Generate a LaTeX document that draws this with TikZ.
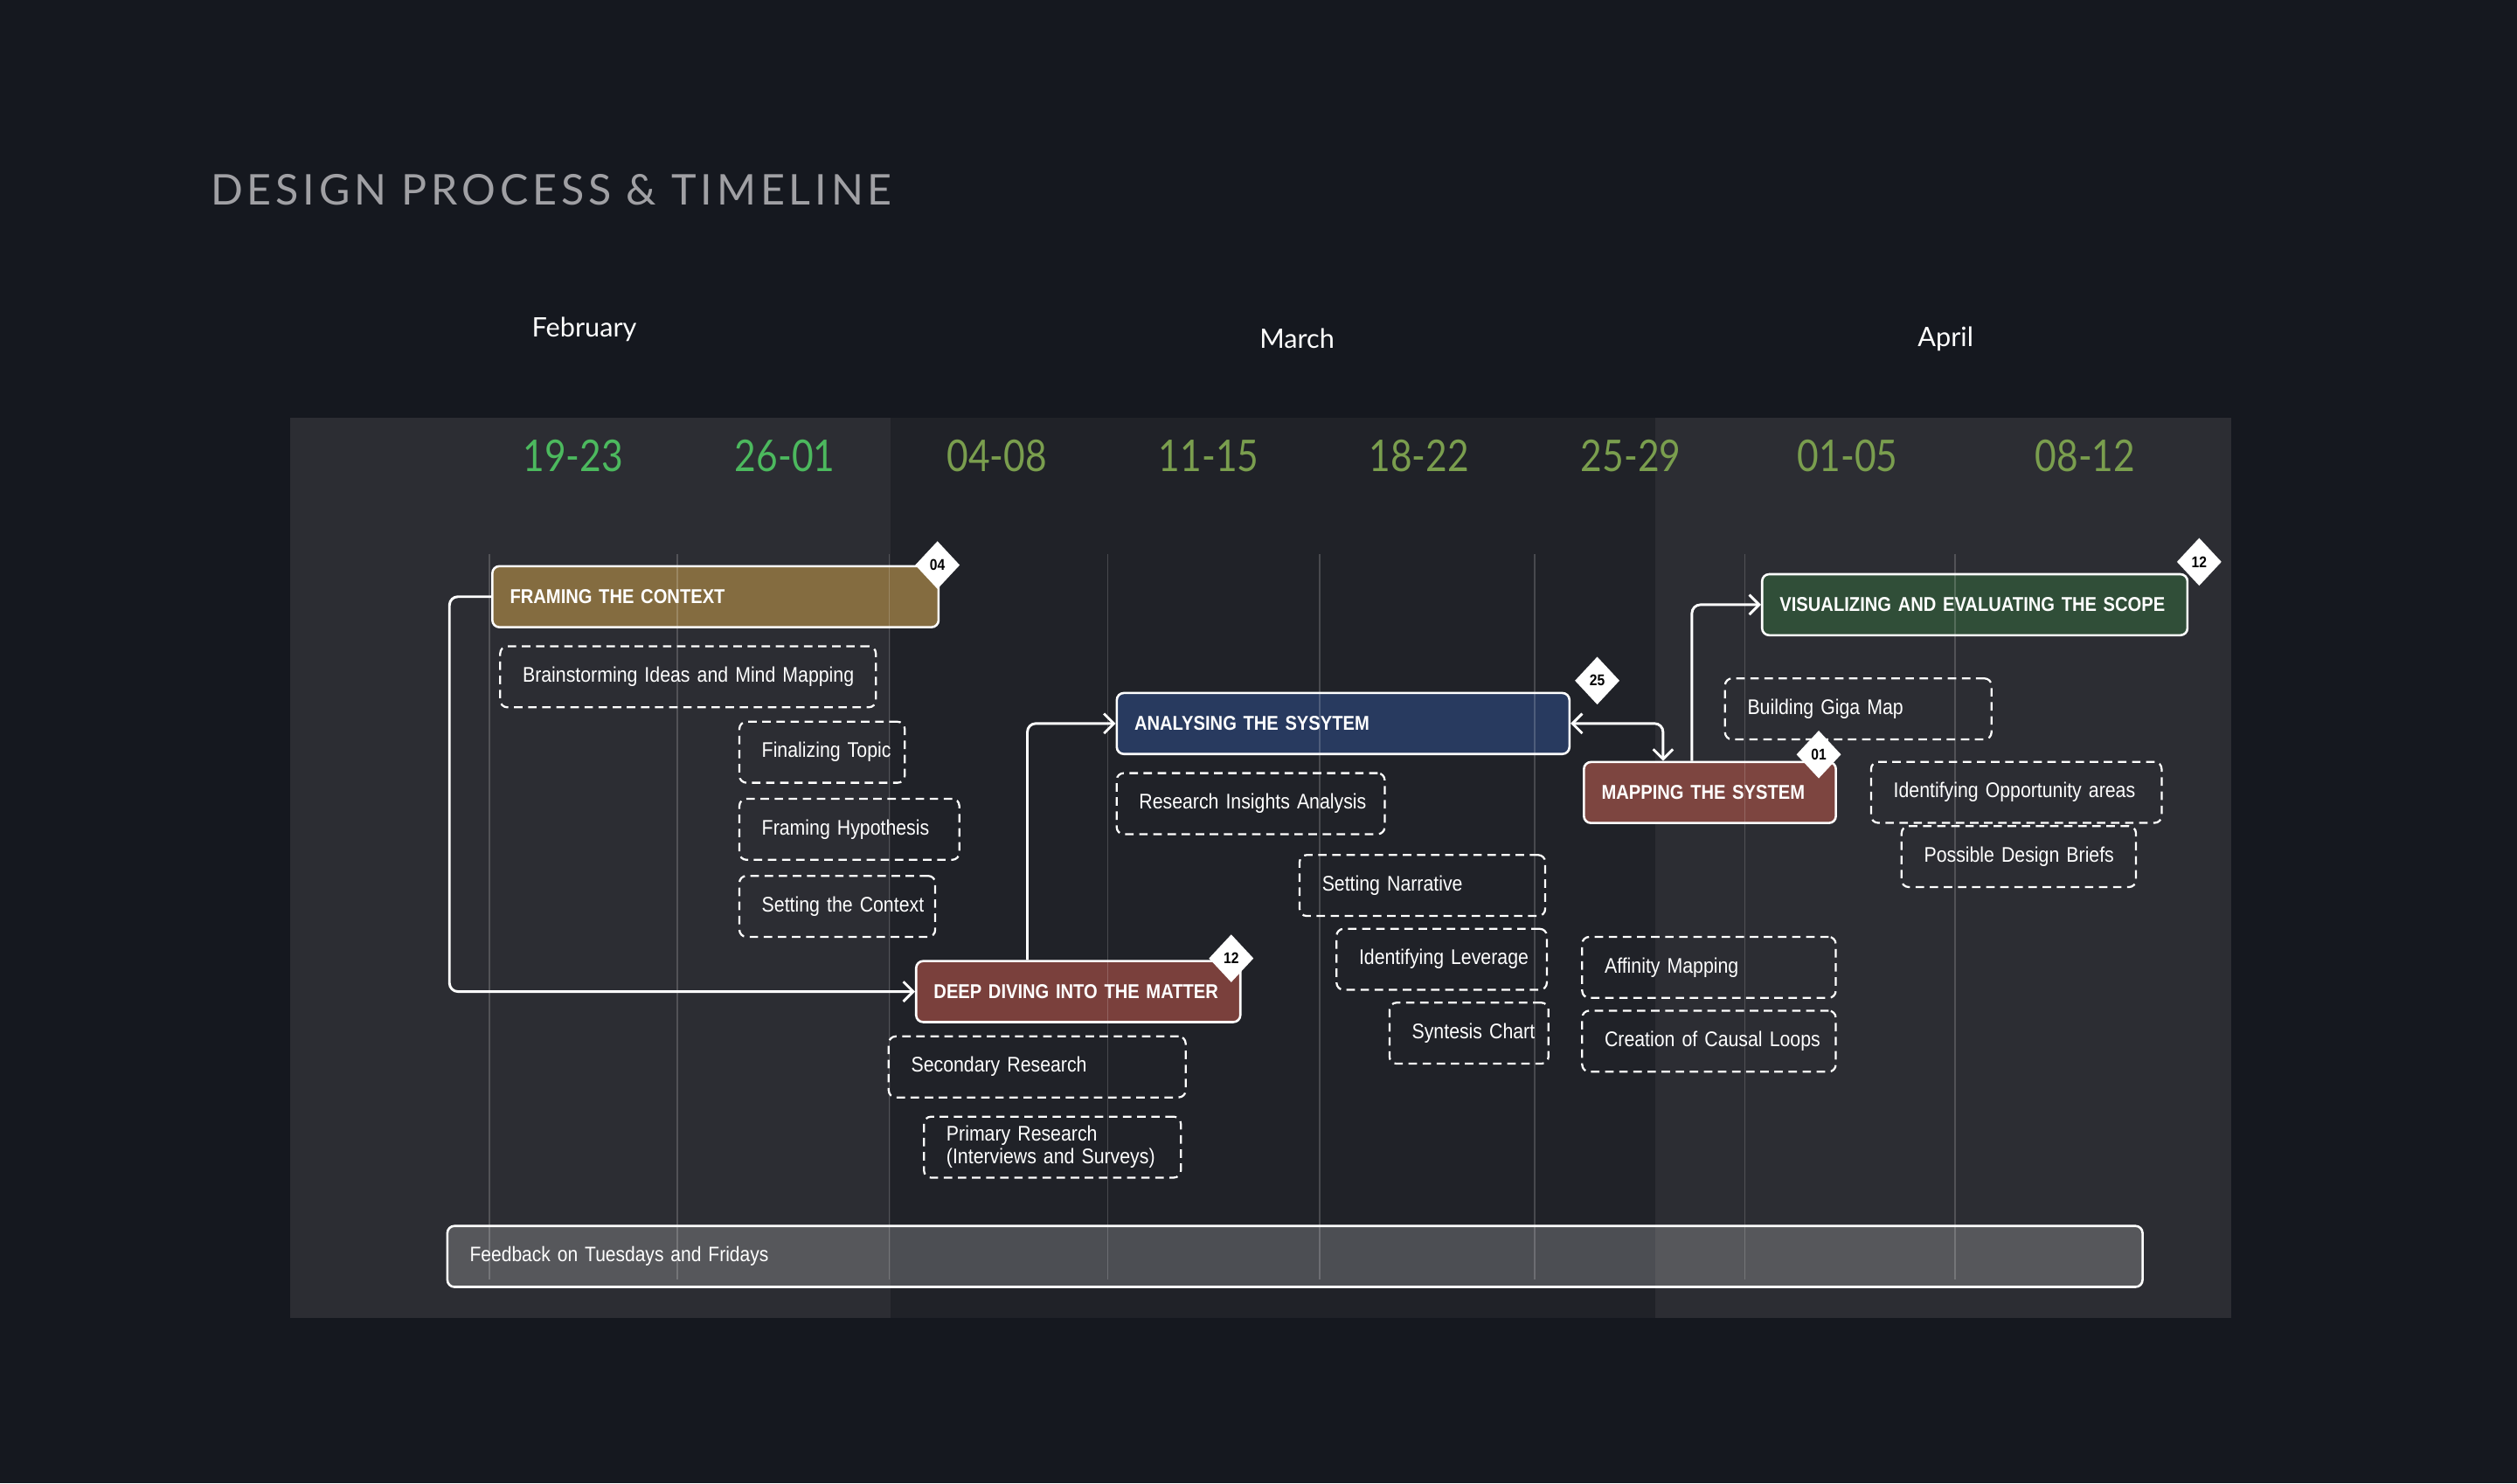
\documentclass[tikz,border=0pt]{standalone}
\usepackage{fontspec}
\setmainfont{Liberation Sans}
\newfontfamily\boxfont{Liberation Sans}[FakeStretch=0.88]
\newfontfamily\headfont{Lato}[LetterSpace=10]
\newfontfamily\monthfont{Lato}
\newfontfamily\weekfont{Lato}[FakeStretch=0.85]
\usetikzlibrary{arrows.meta,shapes.geometric}
\definecolor{pagebg}{RGB}{21,24,31}
\definecolor{panellight}{RGB}{44,45,51}
\definecolor{paneldark}{RGB}{32,34,40}
\definecolor{titlegray}{RGB}{160,160,164}
\definecolor{wkgreen}{RGB}{76,185,94}
\definecolor{wkolive}{RGB}{122,158,78}
\definecolor{cframe}{RGB}{132,108,64}
\definecolor{canal}{RGB}{40,58,95}
\definecolor{cmap}{RGB}{125,69,64}
\definecolor{cdeep}{RGB}{122,64,60}
\definecolor{cvis}{RGB}{48,78,56}
\tikzset{
  tw/.style={/utils/exec={\pgfmathsetmacro\twv{(#1)*0.02}}, text width=\twv cm},
  task/.style={draw=white, line width=0.8pt, rounded corners=2.5pt, anchor=north west,
    inner xsep=0.22cm, inner ysep=0pt, minimum height=0.76cm, align=left, text=white,
    font=\boxfont\bfseries\fontsize{7.1}{8.4}\selectfont},
  note/.style={draw=white, dash pattern=on 3pt off 2pt, line width=0.7pt, rounded corners=2.5pt,
    anchor=north west, inner xsep=0.28cm, inner ysep=0pt, minimum height=0.76cm, align=left,
    text=white, font=\boxfont\fontsize{7.5}{9}\selectfont},
  badge/.style={diamond, fill=white, inner sep=0pt, minimum width=0.56cm, minimum height=0.6cm,
    text=black, font=\boxfont\bfseries\fontsize{5.5}{6}\selectfont},
  month/.style={text=white, font=\monthfont\fontsize{9.5}{11}\selectfont, inner sep=0pt},
  week/.style={font=\weekfont\fontsize{15.5}{18}\selectfont, inner sep=0pt},
  grid/.style={draw=white, draw opacity=0.18, line width=0.5pt},
  conn/.style={draw=white, line width=0.9pt, rounded corners=3pt,
    -{Straight Barb[length=3.5pt,width=7pt]}},
  conn2/.style={draw=white, line width=0.9pt, rounded corners=3pt,
    {Straight Barb[length=3.5pt,width=7pt]}-{Straight Barb[length=3.5pt,width=7pt]}},
}
\begin{document}
\begin{tikzpicture}[x=0.02cm,y=-0.02cm]
\fill[pagebg] (0,0) rectangle (1568,924);
\useasboundingbox (0,0) rectangle (1568,924);
% panel
\fill[panellight] (181,260) rectangle (555,821);
\fill[paneldark] (555,260) rectangle (1031,821);
\fill[panellight] (1031,260) rectangle (1390,821);
% title
\node[anchor=west, inner sep=0pt, text=titlegray, font=\headfont\fontsize{15}{18}\selectfont] (title) at (131,118) {DESIGN PROCESS \& TIMELINE};
% months
\node[month] (feb) at (364,205) {February};
\node[month] (mar) at (808,211) {March};
\node[month] (apr) at (1212,211) {April};
% weeks
\node[week, text=wkgreen] (w1) at (357,284) {19-23};
\node[week, text=wkgreen] (w2) at (489,284) {26-01};
\node[week, text=wkolive] (w3) at (621,284) {04-08};
\node[week, text=wkolive] (w4) at (753,284) {11-15};
\node[week, text=wkolive] (w5) at (884,284) {18-22};
\node[week, text=wkolive] (w6) at (1016,284) {25-29};
\node[week, text=wkolive] (w7) at (1151,284) {01-05};
\node[week, text=wkolive] (w8) at (1299,284) {08-12};
% feedback bar
\node[draw=white, line width=0.8pt, fill=white, fill opacity=0.2, text opacity=1, rounded corners=2.5pt,
  anchor=north west, inner xsep=0.28cm, inner ysep=0pt, minimum height=0.76cm, align=left, tw=1056-28,
  text=white, font=\boxfont\fontsize{7.4}{9}\selectfont] (fb) at (278,763) {\mbox{Feedback on Tuesdays and Fridays}};
% main tasks
\node[task, tw=278-22, fill=cframe] (fr) at (306,352) {\mbox{FRAMING THE CONTEXT}};
\node[task, tw=282-22, fill=canal] (an) at (695,431) {\mbox{ANALYSING THE SYSYTEM}};
\node[task, tw=157-22, fill=cmap] (map) at (986,474) {\mbox{MAPPING THE SYSTEM}};
\node[task, tw=202-22, fill=cdeep] (dd) at (570,598) {\mbox{DEEP DIVING INTO THE MATTER}};
\node[task, tw=265-22, fill=cvis] (vis) at (1097,357) {\mbox{VISUALIZING AND EVALUATING THE SCOPE}};
% notes
\node[note, tw=234-28] (n1) at (311,402) {\mbox{Brainstorming Ideas and Mind Mapping}};
\node[note, tw=103-28] (n2) at (460,449) {\mbox{Finalizing Topic}};
\node[note, tw=137-28] (n3) at (460,497) {\mbox{Framing Hypothesis}};
\node[note, tw=122-28] (n4) at (460,545) {\mbox{Setting the Context}};
\node[note, tw=167-28] (n5) at (695,481) {\mbox{Research Insights Analysis}};
\node[note, tw=153-28] (n6) at (809,532) {\mbox{Setting Narrative}};
\node[note, tw=131-28] (n7) at (832,578) {\mbox{Identifying Leverage}};
\node[note, tw=99-28] (n8) at (865,624) {\mbox{Syntesis Chart}};
\node[note, tw=185-28] (n9) at (553,645) {\mbox{Secondary Research}};
\node[note, tw=160-28, font=\boxfont\fontsize{7.5}{8}\selectfont] (n10) at (575,695) {\mbox{Primary Research}\\\mbox{(Interviews and Surveys)}};
\node[note, tw=166-28] (n11) at (1074,422) {\mbox{Building Giga Map}};
\node[note, tw=181-28] (n12) at (1165,474) {\mbox{Identifying Opportunity areas}};
\node[note, tw=146-28] (n13) at (1184,514) {\mbox{Possible Design Briefs}};
\node[note, tw=158-28] (n14) at (985,583) {\mbox{Affinity Mapping}};
\node[note, tw=158-28] (n15) at (985,629) {\mbox{Creation of Causal Loops}};
% grid lines
\foreach \x in {305,422,554,690,822,956,1087,1218}
  \draw[grid] (\x,345) -- (\x,797);
% connectors
\draw[conn] (fr.west) -- ++(-26,0) |- (dd.west);
\draw[conn] ([xshift=70*0.02cm]dd.north west) |- (an.west);
\draw[conn2] (an.east) -| ([xshift=50*0.02cm]map.north west);
\draw[conn] ([xshift=68*0.02cm]map.north west) |- (vis.west);
% badges
\node[badge] (b1) at (584,352) {04};
\node[badge] (b2) at (995,424) {25};
\node[badge] (b3) at (1133,470) {01};
\node[badge] (b4) at (767,597) {12};
\node[badge] (b5) at (1370,350) {12};
\end{tikzpicture}
\end{document}
